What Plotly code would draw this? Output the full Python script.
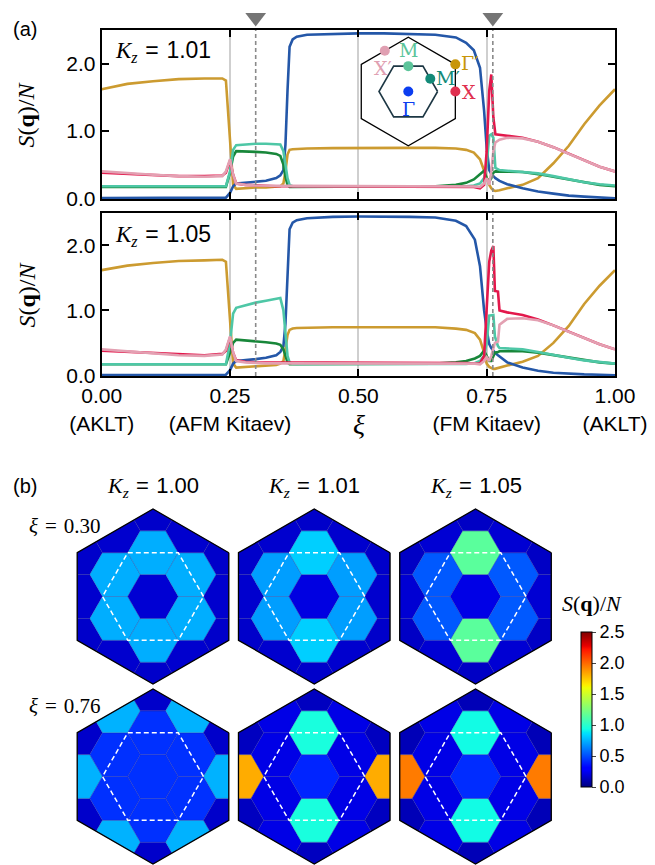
import numpy as np
import plotly.graph_objects as go

W, H = 655, 865
SANS = "Liberation Sans"
SERIF = "Liberation Serif"

# ---------------- data: panel (a) ----------------
xi_101 = [0, 0.05, 0.1, 0.15, 0.2, 0.235, 0.242, 0.25, 0.256, 0.262, 0.28, 0.3, 0.32, 0.34, 0.348, 0.354,
          0.358, 0.362, 0.366, 0.372, 0.38, 0.4, 0.45, 0.5, 0.55, 0.6, 0.65, 0.69, 0.71, 0.725, 0.737, 0.745,
          0.75, 0.755, 0.759, 0.763, 0.767, 0.775, 0.79, 0.82, 0.85, 0.88, 0.91, 0.94, 0.97, 1.0]
gp_101 = [1.62, 1.70, 1.74, 1.77, 1.78, 1.78, 1.75, 0.90, 0.20, 0.14, 0.15, 0.16, 0.16, 0.17, 0.18, 0.22,
          0.40, 0.65, 0.72, 0.73, 0.735, 0.74, 0.745, 0.75, 0.75, 0.75, 0.75, 0.74, 0.72, 0.68, 0.58, 0.40,
          0.28, 0.20, 0.15, 0.12, 0.11, 0.12, 0.15, 0.20, 0.30, 0.52, 0.78, 1.10, 1.38, 1.62]
gam_101 = [0.005, 0.005, 0.005, 0.005, 0.005, 0.005, 0.01, 0.08, 0.18, 0.22, 0.23, 0.24, 0.26, 0.30, 0.34, 0.42,
           0.80, 1.60, 2.25, 2.36, 2.40, 2.43, 2.445, 2.45, 2.45, 2.445, 2.43, 2.39, 2.31, 2.20, 1.94, 1.30,
           0.75, 0.42, 0.36, 0.33, 0.30, 0.26, 0.21, 0.15, 0.10, 0.07, 0.04, 0.025, 0.01, 0.0]
m_101 = [0.18, 0.18, 0.18, 0.18, 0.18, 0.18, 0.18, 0.40, 0.72, 0.79, 0.80, 0.81, 0.81, 0.81, 0.80, 0.70,
         0.50, 0.30, 0.20, 0.18, 0.175, 0.175, 0.175, 0.175, 0.175, 0.175, 0.175, 0.18, 0.18, 0.19, 0.22, 0.30,
         0.50, 0.93, 0.95, 0.90, 0.45, 0.42, 0.41, 0.40, 0.37, 0.33, 0.28, 0.24, 0.21, 0.19]
mp_101 = [0.17, 0.17, 0.17, 0.17, 0.17, 0.17, 0.17, 0.38, 0.62, 0.70, 0.70, 0.69, 0.68, 0.66, 0.63, 0.50,
          0.32, 0.20, 0.17, 0.17, 0.17, 0.17, 0.17, 0.17, 0.17, 0.175, 0.18, 0.20, 0.23, 0.28, 0.35, 0.41,
          0.30, 0.25, 0.30, 0.38, 0.40, 0.40, 0.40, 0.39, 0.36, 0.32, 0.27, 0.23, 0.20, 0.18]
x_101 = [0.38, 0.36, 0.34, 0.33, 0.33, 0.34, 0.38, 0.56, 0.35, 0.22, 0.20, 0.19, 0.185, 0.18, 0.18, 0.18,
         0.18, 0.18, 0.18, 0.18, 0.18, 0.18, 0.18, 0.18, 0.18, 0.18, 0.18, 0.18, 0.17, 0.17, 0.15, 0.20,
         0.70, 1.60, 1.84, 1.20, 0.95, 0.94, 0.93, 0.90, 0.84, 0.76, 0.66, 0.56, 0.47, 0.40]
xp_101 = [0.40, 0.37, 0.35, 0.33, 0.32, 0.33, 0.40, 0.58, 0.35, 0.22, 0.20, 0.19, 0.185, 0.185, 0.185, 0.185,
          0.185, 0.185, 0.185, 0.185, 0.185, 0.185, 0.185, 0.185, 0.185, 0.185, 0.185, 0.18, 0.18, 0.175, 0.17, 0.22,
          0.30, 0.20, 0.40, 0.70, 0.83, 0.87, 0.90, 0.89, 0.84, 0.76, 0.66, 0.56, 0.47, 0.40]

xi_105 = [0, 0.05, 0.1, 0.15, 0.2, 0.235, 0.242, 0.25, 0.256, 0.262, 0.28, 0.3, 0.32, 0.34, 0.348, 0.354,
          0.358, 0.362, 0.366, 0.372, 0.38, 0.4, 0.45, 0.5, 0.55, 0.6, 0.65, 0.69, 0.71, 0.727, 0.737, 0.745,
          0.75, 0.755, 0.759, 0.763, 0.766, 0.772, 0.775, 0.79, 0.82, 0.85, 0.88, 0.91, 0.94, 0.97, 1.0]
gp_105 = [1.62, 1.69, 1.73, 1.76, 1.77, 1.78, 1.75, 0.90, 0.18, 0.12, 0.13, 0.14, 0.15, 0.16, 0.18, 0.22,
          0.40, 0.62, 0.70, 0.72, 0.73, 0.735, 0.74, 0.74, 0.74, 0.74, 0.74, 0.72, 0.70, 0.65, 0.55, 0.35,
          0.18, 0.13, 0.11, 0.10, 0.10, 0.11, 0.12, 0.15, 0.21, 0.30, 0.50, 0.76, 1.10, 1.38, 1.62]
gam_105 = [0.005, 0.005, 0.005, 0.005, 0.005, 0.005, 0.01, 0.08, 0.18, 0.22, 0.23, 0.25, 0.27, 0.31, 0.36, 0.45,
           0.80, 1.60, 2.25, 2.35, 2.39, 2.42, 2.44, 2.445, 2.445, 2.44, 2.43, 2.38, 2.30, 2.09, 1.68, 1.00,
           0.70, 0.48, 0.42, 0.38, 0.35, 0.31, 0.29, 0.20, 0.12, 0.07, 0.04, 0.025, 0.015, 0.01, 0.0]
m_105 = [0.17, 0.17, 0.17, 0.17, 0.17, 0.17, 0.17, 0.50, 0.95, 1.04, 1.08, 1.12, 1.15, 1.18, 1.19, 1.00,
         0.60, 0.30, 0.20, 0.18, 0.175, 0.175, 0.175, 0.175, 0.175, 0.175, 0.175, 0.175, 0.175, 0.19, 0.22, 0.30,
         0.50, 0.92, 0.93, 0.93, 0.60, 0.45, 0.42, 0.41, 0.40, 0.36, 0.31, 0.27, 0.23, 0.20, 0.18]
mp_105 = [0.17, 0.17, 0.17, 0.17, 0.17, 0.17, 0.17, 0.35, 0.50, 0.55, 0.54, 0.53, 0.51, 0.49, 0.47, 0.40,
          0.28, 0.20, 0.17, 0.17, 0.17, 0.17, 0.17, 0.17, 0.17, 0.17, 0.18, 0.20, 0.22, 0.26, 0.30, 0.38,
          0.30, 0.22, 0.22, 0.30, 0.35, 0.36, 0.37, 0.37, 0.37, 0.35, 0.31, 0.27, 0.23, 0.20, 0.18]
x_105 = [0.38, 0.36, 0.34, 0.32, 0.31, 0.33, 0.38, 0.58, 0.35, 0.23, 0.21, 0.20, 0.20, 0.20, 0.20, 0.20,
         0.20, 0.20, 0.20, 0.20, 0.20, 0.20, 0.20, 0.20, 0.20, 0.20, 0.20, 0.19, 0.19, 0.18, 0.18, 0.30,
         1.00, 1.75, 1.92, 1.99, 1.30, 1.29, 1.00, 0.97, 0.93, 0.86, 0.77, 0.67, 0.57, 0.48, 0.40]
xp_105 = [0.40, 0.37, 0.34, 0.31, 0.30, 0.32, 0.40, 0.60, 0.35, 0.22, 0.20, 0.19, 0.185, 0.185, 0.185, 0.185,
          0.185, 0.185, 0.185, 0.185, 0.185, 0.185, 0.185, 0.185, 0.185, 0.185, 0.185, 0.185, 0.185, 0.18, 0.17, 0.22,
          0.28, 0.22, 0.30, 0.42, 0.50, 0.52, 0.78, 0.87, 0.88, 0.85, 0.77, 0.67, 0.57, 0.48, 0.40]

xi_ticks = [0.0, 0.25, 0.5, 0.75, 1.0]
xi_ticktext = ["0.00<br>(AKLT)", "0.25<br>(AFM Kitaev)", "0.50", "0.75<br>(FM Kitaev)", "1.00<br>(AKLT)"]
y_ticks = [0.0, 1.0, 2.0]
xi_marks = [0.30, 0.762]          # dashed lines / triangles
kz_a = ["1.01", "1.05"]

# ---------------- data: panel (b) ----------------
kz_b = ["1.00", "1.01", "1.05"]
xi_b = ["0.30", "0.76"]
# values per map: [Gamma, M, M', X, X', Gamma']
map_vals = {
    ("1.00", "0.30"): [0.18, 0.74, 0.74, 0.17, 0.17, 0.16],
    ("1.01", "0.30"): [0.21, 0.82, 0.70, 0.17, 0.17, 0.16],
    ("1.05", "0.30"): [0.22, 1.15, 0.53, 0.18, 0.18, 0.15],
    ("1.00", "0.76"): [0.43, 0.43, 0.43, 0.75, 0.75, 0.16],
    ("1.01", "0.76"): [0.40, 0.95, 0.22, 1.82, 0.22, 0.14],
    ("1.05", "0.76"): [0.42, 0.93, 0.22, 1.95, 0.22, 0.12],
}
cb_ticks = [0.0, 0.5, 1.0, 1.5, 2.0, 2.5]

# ---------------- styling ----------------
C_GOLD, C_BLUE, C_GREEN, C_TEAL, C_RED, C_PINK = "#cc9b30", "#2457a8", "#18873a", "#4ec7a6", "#e3174b", "#e3a0b2"
SP = "\u2004"   # wider math-like spacing around '='

def fx(px):
    return px / W

def fy(py):
    return 1 - py / H

JET_R = ([0, 0.35, 0.66, 0.89, 1], [0, 0, 1, 1, 0.5])
JET_G = ([0, 0.125, 0.375, 0.64, 0.91, 1], [0, 0, 1, 1, 0, 0])
JET_B = ([0, 0.11, 0.34, 0.65, 1], [0.5, 1, 1, 0, 0])

def jet(t):
    t = min(max(t, 0), 1)
    return "rgb(%d,%d,%d)" % tuple(int(round(255 * np.interp(t, *c))) for c in (JET_R, JET_G, JET_B))

stops = sorted(set(JET_R[0] + JET_G[0] + JET_B[0]))
jet_scale = [[s, jet(s)] for s in stops]
VMAX = 2.5

fig = go.Figure()

# ---------------- panel (a) curves ----------------
PX_L, PX_R = 101.7, 615
plots = [
    dict(xa="x", ya="y", top=30, bot=199, xi=xi_101,
         s=[(gp_101, C_GOLD), (gam_101, C_BLUE), (mp_101, C_GREEN), (m_101, C_TEAL), (x_101, C_RED), (xp_101, C_PINK)]),
    dict(xa="x2", ya="y2", top=213, bot=376, xi=xi_105,
         s=[(gp_105, C_GOLD), (gam_105, C_BLUE), (mp_105, C_GREEN), (m_105, C_TEAL), (x_105, C_RED), (xp_105, C_PINK)]),
]
for p in plots:
    for vals, col in p["s"]:
        fig.add_trace(go.Scatter(x=p["xi"], y=vals, mode="lines", xaxis=p["xa"], yaxis=p["ya"],
                                 line=dict(color=col, width=2.6), showlegend=False, hoverinfo="skip"))

# triangles above the top panel (own axis strip)
fig.add_trace(go.Scatter(x=xi_marks, y=[0.5, 0.5], mode="markers", xaxis="x5", yaxis="y5",
                         marker=dict(symbol="triangle-down", size=18, color="#757575"),
                         cliponaxis=False, showlegend=False, hoverinfo="skip"))

shapes = []
for p in plots:
    for xm in xi_marks:
        shapes.append(dict(type="line", xref=p["xa"], yref=p["ya"] + " domain", x0=xm, x1=xm, y0=0, y1=1,
                           line=dict(color="#8a8a8a", width=1.6, dash="4px,3px"), layer="above"))

axis_common = dict(showline=True, linewidth=2, linecolor="black", mirror="ticks", ticks="inside",
                   ticklen=7, tickwidth=2, tickcolor="black", zeroline=False, automargin=False,
                   tickfont=dict(family=SANS, size=21, color="black"))
layout = dict(width=W, height=H, margin=dict(l=0, r=0, t=0, b=0, pad=0, autoexpand=False),
              paper_bgcolor="white", plot_bgcolor="rgba(0,0,0,0)",
              font=dict(family=SANS, color="black"), showlegend=False)
for k, p in enumerate(plots):
    xn = "xaxis" if k == 0 else "xaxis2"
    yn = "yaxis" if k == 0 else "yaxis2"
    layout[xn] = dict(axis_common, domain=[fx(PX_L), fx(PX_R)], range=[0, 1], anchor=p["ya"],
                      tickvals=xi_ticks, ticktext=xi_ticktext, showticklabels=(k == 1),
                      showgrid=True, gridcolor="#cfcfcf", gridwidth=1.5)
    layout[yn] = dict(axis_common, domain=[fy(p["bot"]), fy(p["top"])], range=[-0.01, 2.5], anchor=p["xa"],
                      tickvals=y_ticks, ticktext=["%.1f" % v for v in y_ticks], showgrid=False)
layout["xaxis5"] = dict(domain=[fx(PX_L), fx(PX_R)], range=[0, 1], visible=False, anchor="y5", fixedrange=True)
layout["yaxis5"] = dict(domain=[fy(29), fy(6)], range=[0, 1], visible=False, anchor="x5", fixedrange=True)

annotations = []
def kz_label(v):
    return '<span style="font-family:%s"><i>K</i><sub><i>z</i></sub></span>%s=%s%s' % (SERIF, SP, SP, v)

for p, kz in zip(plots, kz_a):
    annotations.append(dict(text=kz_label(kz), xref="paper", yref="paper", x=fx(113), y=fy(p["top"] + 22),
                            xanchor="left", yanchor="middle", showarrow=False, font=dict(size=23, family=SANS)))
    annotations.append(dict(text="<i>S</i>(<b>q</b>)/<i>N</i>", xref="paper", yref="paper", x=fx(26),
                            y=fy((p["top"] + p["bot"]) / 2), xanchor="center", yanchor="middle",
                            textangle=-90, showarrow=False, font=dict(size=24, family=SERIF)))
annotations.append(dict(text="<i>ξ</i>", xref="paper", yref="paper", x=fx(359), y=fy(424), xanchor="center",
                        showarrow=False, font=dict(size=28, family=SERIF)))
annotations.append(dict(text="(a)", xref="paper", yref="paper", x=fx(11), y=fy(16), xanchor="left",
                        showarrow=False, font=dict(size=20, family=SANS)))
annotations.append(dict(text="(b)", xref="paper", yref="paper", x=fx(11), y=fy(486), xanchor="left",
                        showarrow=False, font=dict(size=20, family=SANS)))

# ---------------- inset (Brillouin zones) ----------------
def hexagon(R, rot_deg):
    ang = np.deg2rad(rot_deg + 60 * np.arange(7))
    return R * np.cos(ang), R * np.sin(ang)

IN_CX, IN_CY = 408.3, 91.5
IN_BZ, IN_EXT = 29.3, 54.3
bx, by = hexagon(IN_BZ, 0)
ex, ey = hexagon(IN_EXT, 30)
fig.add_trace(go.Scatter(x=ex, y=ey, mode="lines", xaxis="x3", yaxis="y3", line=dict(color="black", width=1.3),
                         showlegend=False, hoverinfo="skip"))
fig.add_trace(go.Scatter(x=bx, y=by, mode="lines", xaxis="x3", yaxis="y3", line=dict(color="#1d3744", width=1.6),
                         showlegend=False, hoverinfo="skip"))
s3 = np.sqrt(3)
# name, x, y, colour, label anchor, label shift (px)
inset_pts = [
    ("Γ", 0, 0, "#0b3df0", "center", "top", 0, -5),
    ("M", 0, IN_BZ * s3 / 2, "#5cc49a", "center", "bottom", 0, 3),
    ("M′", IN_BZ * 0.75, IN_BZ * s3 / 4, "#138a78", "left", "middle", 4, 1),
    ("Γ′", IN_EXT * s3 / 2, IN_EXT / 2, "#c8960a", "left", "middle", 4, 1),
    ("X", IN_EXT * s3 / 2, 0, "#e0304f", "left", "middle", 5, -1),
    ("X′", -IN_EXT * s3 / 4, IN_EXT * 0.75, "#e0a0b2", "center", "top", -2, -4),
]
for name, px_, py_, col, xa_, ya_, dx, dy in inset_pts:
    fig.add_trace(go.Scatter(x=[px_], y=[py_], mode="markers", xaxis="x3", yaxis="y3", cliponaxis=False,
                             marker=dict(size=10, color=col), showlegend=False, hoverinfo="skip"))
    annotations.append(dict(text=name, xref="x3", yref="y3", x=px_, y=py_, xanchor=xa_, yanchor=ya_,
                            xshift=dx, yshift=dy, showarrow=False,
                            font=dict(family="DejaVu Serif", size=19, color=col)))
IN_L, IN_R, IN_T, IN_B = 340, 490, 30, 150
layout["xaxis3"] = dict(domain=[fx(IN_L), fx(IN_R)], range=[IN_L - IN_CX, IN_R - IN_CX], visible=False,
                        anchor="y3", fixedrange=True)
layout["yaxis3"] = dict(domain=[fy(IN_B), fy(IN_T)], range=[IN_CY - IN_B, IN_CY - IN_T], visible=False,
                        anchor="x3", fixedrange=True)

# ---------------- panel (b) maps ----------------
def clip(subject, clipper):
    out = list(subject)
    n = len(clipper)
    for k in range(n):
        A, B = clipper[k], clipper[(k + 1) % n]
        inp, out = out, []
        if not inp:
            break
        def inside(P):
            return (B[0] - A[0]) * (P[1] - A[1]) - (B[1] - A[1]) * (P[0] - A[0]) >= -1e-9
        def inter(P, Q):
            x1, y1 = P; x2, y2 = Q; x3, y3 = A; x4, y4 = B
            den = (x1 - x2) * (y3 - y4) - (y1 - y2) * (x3 - x4)
            t = ((x1 - x3) * (y3 - y4) - (y1 - y3) * (x3 - x4)) / den
            return (x1 + t * (x2 - x1), y1 + t * (y2 - y1))
        S = inp[-1]
        for E in inp:
            if inside(E):
                if not inside(S):
                    out.append(inter(S, E))
                out.append(E)
            elif inside(S):
                out.append(inter(S, E))
            S = E
    return out

def area(poly):
    if len(poly) < 3:
        return 0
    a = 0
    for k in range(len(poly)):
        x1, y1 = poly[k]; x2, y2 = poly[(k + 1) % len(poly)]
        a += x1 * y2 - x2 * y1
    return abs(a) / 2

R_EXT = 2 * s3                       # extended zone radius in units of cell radius
ext_poly = list(zip(*[v[:6] for v in hexagon(R_EXT, 30)]))
cells = []   # (class index, polygon)
for i in range(-2, 3):
    for j in range(-4, 5):
        cx, cy = 1.5 * i, (i / 2 + j) * s3
        hx, hy = hexagon(1.0, 0)
        poly = clip(list(zip(cx + hx[:6], cy + hy[:6])), ext_poly)
        if area(poly) < 1e-6:
            continue
        d2 = cx * cx + cy * cy
        if d2 < 0.1:
            cls = 0
        elif abs(d2 - 3) < 0.1:
            cls = 1 if abs(cx) < 1e-6 else 2
        elif abs(d2 - 9) < 0.1:
            cls = 3 if abs(cy) < 1e-6 else 4
        else:
            cls = 5
        cells.append((cls, poly))

SCALE = 25.26                          # px per cell radius
COL_PX = [153, 314.25, 475.5]
ROW_PX = [596.5, 776.5]
MB_T = 500                             # top of map region (px)
for r_i, xv in enumerate(xi_b):
    for c_i, kz in enumerate(kz_b):
        vals = map_vals[(kz, xv)]
        ox, oy = COL_PX[c_i], H - ROW_PX[r_i]
        for cls, poly in cells:
            xs = [ox + SCALE * p[0] for p in poly] + [ox + SCALE * poly[0][0]]
            ys = [oy + SCALE * p[1] for p in poly] + [oy + SCALE * poly[0][1]]
            fig.add_trace(go.Scatter(x=xs, y=ys, mode="lines", fill="toself", xaxis="x4", yaxis="y4",
                                     fillcolor=jet(vals[cls] / VMAX),
                                     line=dict(color="rgba(40,40,140,0.35)", width=0.8),
                                     showlegend=False, hoverinfo="skip"))
        hx, hy = hexagon(2.0, 0)
        fig.add_trace(go.Scatter(x=ox + SCALE * hx, y=oy + SCALE * hy, mode="lines", xaxis="x4", yaxis="y4",
                                 line=dict(color="white", width=1.5, dash="5px,3px"),
                                 showlegend=False, hoverinfo="skip"))
        hx, hy = hexagon(R_EXT, 30)
        fig.add_trace(go.Scatter(x=ox + SCALE * hx, y=oy + SCALE * hy, mode="lines", xaxis="x4", yaxis="y4",
                                 line=dict(color="black", width=1.3),
                                 showlegend=False, hoverinfo="skip"))

# colorbar carrier
fig.add_trace(go.Scatter(x=[-50], y=[-50], mode="markers", xaxis="x4", yaxis="y4",
                         marker=dict(color=[0], colorscale=jet_scale, cmin=0, cmax=VMAX, size=1, showscale=True,
                                     colorbar=dict(x=fx(581), xanchor="left", y=fy(709.5), yanchor="middle",
                                                   len=155 / H, lenmode="fraction", thickness=11,
                                                   xpad=0, ypad=0, outlinewidth=1, outlinecolor="black",
                                                   ticks="outside", ticklen=4, tickwidth=1,
                                                   tickvals=cb_ticks, ticktext=["%.1f" % v for v in cb_ticks],
                                                   tickfont=dict(family=SANS, size=18, color="black"))),
                         showlegend=False, hoverinfo="skip"))

layout["xaxis4"] = dict(domain=[0, 1], range=[0, W], visible=False, anchor="y4", fixedrange=True)
layout["yaxis4"] = dict(domain=[0, fy(MB_T)], range=[0, H - MB_T], visible=False, anchor="x4", fixedrange=True)

for c_i, kz in enumerate(kz_b):
    annotations.append(dict(text=kz_label(kz), xref="paper", yref="paper", x=fx(COL_PX[c_i]), y=fy(487),
                            xanchor="center", yanchor="middle", showarrow=False, font=dict(size=22, family=SANS)))
for r_i, xv in enumerate(xi_b):
    annotations.append(dict(text="<i>ξ</i>%s=%s%s" % (SP, SP, xv), xref="paper", yref="paper", x=fx(27),
                            y=fy(ROW_PX[r_i] - 71), xanchor="left", yanchor="middle", showarrow=False,
                            font=dict(size=21, family=SERIF)))
annotations.append(dict(text="<i>S</i>(<b>q</b>)/<i>N</i>", xref="paper", yref="paper", x=fx(592), y=fy(603),
                        xanchor="center", yanchor="middle", showarrow=False, font=dict(size=22, family=SERIF)))

layout["shapes"] = shapes
layout["annotations"] = annotations
fig.update_layout(**layout)
fig.write_html("out.html")
